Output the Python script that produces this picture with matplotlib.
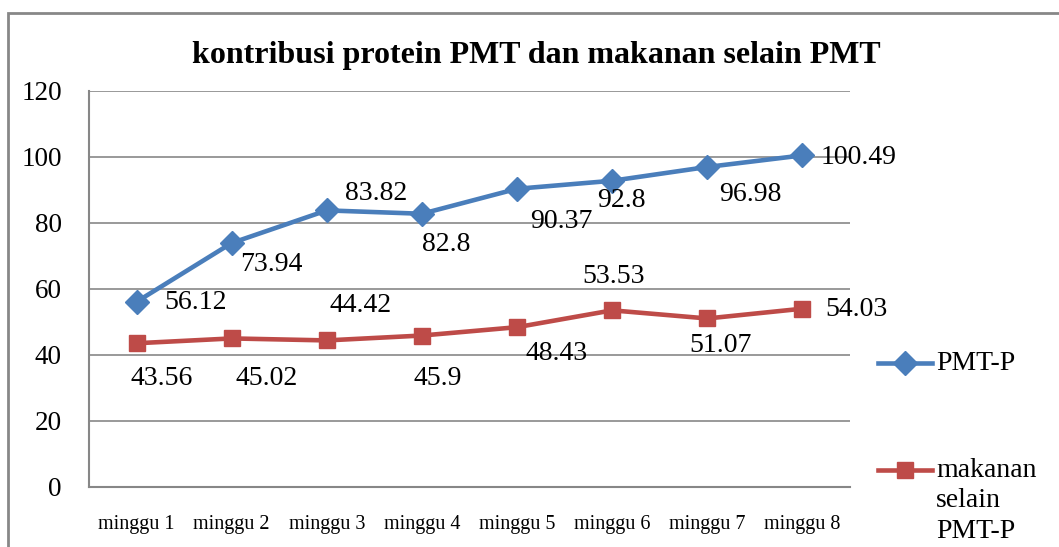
import matplotlib.pyplot as plt
from matplotlib.lines import Line2D
from matplotlib.patches import Rectangle

plt.rcParams["font.family"] = ["Liberation Serif", "DejaVu Serif"]

weeks = ["minggu 1", "minggu 2", "minggu 3", "minggu 4",
         "minggu 5", "minggu 6", "minggu 7", "minggu 8"]
pmt_p = [56.12, 73.94, 83.82, 82.8, 90.37, 92.8, 96.98, 100.49]
makanan = [43.56, 45.02, 44.42, 45.9, 48.43, 53.53, 51.07, 54.03]
y_ticks = [0, 20, 40, 60, 80, 100, 120]

# label offsets in pixels (x, y-up)
pmt_off = [(59, -1), (40, -22), (49, 17), (24, -31), (44, -33), (9, -20), (43, -28), (56, -2)]
mak_off = [(25, -35), (35, -40), (34, 35), (16, -43), (40, -26), (1, 34), (13, -27), (54, -1)]

BLUE = "#4A7EBB"
RED = "#BE4B48"
GRAY = "#878787"

W, H = 1059, 547
fig = plt.figure(figsize=(W / 100, H / 100), dpi=100)
ax = fig.add_axes([89 / W, 1 - 487 / H, (850 - 89) / W, (487 - 91) / H])

x = list(range(len(weeks)))
ax.plot(x, pmt_p, color=BLUE, lw=3.3, marker="D", ms=12, zorder=3)
ax.plot(x, makanan, color=RED, lw=3.3, marker="s", ms=12, zorder=3)

for xi, v, off in zip(x, pmt_p, pmt_off):
    ax.annotate(f"{v:g}", (xi, v), xytext=off, textcoords="offset pixels",
                ha="center", va="center", fontsize=20)
for xi, v, off in zip(x, makanan, mak_off):
    ax.annotate(f"{v:g}", (xi, v), xytext=off, textcoords="offset pixels",
                ha="center", va="center", fontsize=20)

ax.set_xlim(-0.5, len(weeks) - 0.5)
ax.set_ylim(0, 120)
ax.set_yticks(y_ticks)
ax.set_xticks(x)
ax.set_xticklabels(weeks, fontsize=14.5)
ax.tick_params(axis="y", labelsize=19.5, length=0, pad=19.5)
ax.tick_params(axis="x", length=0, pad=20)
ax.yaxis.grid(True, color=GRAY, lw=1.2)
ax.set_axisbelow(True)
for s in ["top", "right"]:
    ax.spines[s].set_visible(False)
for s in ["left", "bottom"]:
    ax.spines[s].set_color(GRAY)
    ax.spines[s].set_linewidth(1.5)

fig.text(536 / W, 1 - 55 / H, "kontribusi protein PMT dan makanan selain PMT",
         ha="center", va="center", fontsize=23, fontweight="bold")

# outer chart border
fig.add_artist(Rectangle((8 / W, -0.05), 1.1, 1 - 13 / H + 0.05, transform=fig.transFigure,
                         fill=False, edgecolor=GRAY, lw=2))

# legend drawn by hand
for yy, col, mk in [(363, BLUE, "D"), (470, RED, "s")]:
    fy = 1 - yy / H
    fig.add_artist(Line2D([878 / W, 932 / W], [fy, fy], color=col, lw=3.3,
                          transform=fig.transFigure))
    fig.add_artist(Line2D([905 / W], [fy], color=col, marker=mk, ms=12,
                          transform=fig.transFigure))
fig.text(936 / W, 1 - 363 / H, "PMT-P", ha="left", va="center", fontsize=20)
fig.text(936 / W, 1 - 458 / H, "makanan\nselain\nPMT-P", ha="left", va="top",
         fontsize=20, linespacing=1.28)

fig.savefig("out.png", dpi=100)
